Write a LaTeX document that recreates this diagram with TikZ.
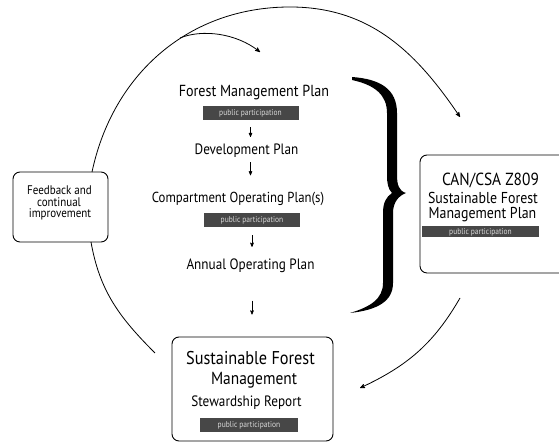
\documentclass[tikz,border=0pt]{standalone}
\usepackage{fontspec}
\setmainfont{PT Sans}[FakeStretch=0.88]
\usetikzlibrary{arrows}

\begin{document}
\begin{tikzpicture}[x=1pt,y=1pt,>=stealth',line width=0.8pt,
  plan/.style={inner sep=0pt,anchor=base,font=\fontsize{15}{17}\selectfont},
  small/.style={inner sep=0pt,anchor=base,font=\fontsize{12.5}{13}\selectfont},
  pp/.style={fill=black!72,text=white!85!black,inner sep=0pt,minimum width=96pt,
    minimum height=14pt,font=\fontsize{8.5}{9}\selectfont},
  box/.style={draw,line width=0.9pt,rounded corners=7pt,inner sep=0pt},
  flow/.style={->,line width=0.6pt}]

\useasboundingbox (0,0) rectangle (559,443);

% boxes
\node[box,minimum width=95pt,minimum height=70pt] (feed) at (60.5,236) {};
\node[box,minimum width=150pt,minimum height=118pt] (csa) at (495,229) {};
\node[box,minimum width=161pt,minimum height=104pt] (sfm) at (252.5,54) {};

% planning column
\node[plan,font=\fontsize{16}{18}\selectfont] (fmp) at (254,346) {Forest Management Plan};
\node[pp] (pp1) at (250.5,330) {public participation};
\node[plan] (dev) at (246.5,288) {Development Plan};
\node[plan,font=\fontsize{14.5}{17}\selectfont] (cop) at (238,240) {Compartment Operating Plan(s)};
\node[pp] (pp2) at (252,223) {public participation};
\node[plan] (aop) at (250.5,173) {Annual Operating Plan};

\draw[flow,shorten <=7pt,shorten >=7pt] (pp1.south) -- (pp1.south |- dev.north);
\draw[flow,shorten <=4pt,shorten >=17pt] (pp1.south |- dev.south) -- (pp1.south |- cop.north);
\draw[flow,shorten <=8pt,shorten >=12pt] (pp2.south) -- (pp2.south |- aop.north);
\draw[flow,shorten <=27pt,shorten >=22pt] (pp2.south |- aop.south) -- (pp2.south |- sfm.north);

% stewardship report
\node[plan,font=\fontsize{18.5}{20}\selectfont] (sfm1) at (250.5,78) {Sustainable Forest};
\node[plan,font=\fontsize{17.5}{19}\selectfont] (sfm2) at (254,58) {Management};
\node[plan] (sfm3) at (246.5,36) {Stewardship Report};
\node[pp,minimum width=98pt] (pp3) at (249,18) {public participation};

% CAN/CSA plan
\node[plan,font=\fontsize{17.5}{19}\selectfont] (csa1) at (490.5,257) {CAN/CSA Z809};
\node[plan,font=\fontsize{15.8}{17}\selectfont] (csa2) at (483,239) {Sustainable Forest};
\node[plan,font=\fontsize{15.8}{17}\selectfont] (csa3) at (482.5,224) {Management Plan};
\node[pp,minimum width=117pt,minimum height=11pt] (pp4) at (480.5,211) {public participation};

% feedback
\node[small] (fb1) at (59.5,248) {Feedback and};
\node[small] (fb2) at (59,236.5) {continual};
\node[small] (fb3) at (60,225) {improvement};

% brace
\fill (352,366) .. controls (380,364) and (397,354) .. (397,330) -- (397,268)
  .. controls (397,258) and (399,252) .. (406,250)
  .. controls (398,247) and (393,240) .. (393,230) -- (393,160)
  .. controls (393,142) and (378,133) .. (350,130)
  .. controls (370,136) and (383,144) .. (383,160) -- (383,230)
  .. controls (383,240) and (386,246) .. (392,250)
  .. controls (388,254) and (387,260) .. (387,268) -- (387,330)
  .. controls (387,348) and (375,358) .. (352,363) -- cycle;

% cycle
\coordinate (fbtop) at (92,271);
\coordinate (top) at (290,436);
\coordinate (tipR) at (460,326);
\coordinate (branch) at (180,405);
\coordinate (tipT) at (260,391);
\coordinate (fbbot) at (91,201);
\coordinate (lowL) at (155,90);
\coordinate (startR) at (460,145);
\coordinate (tipB) at (360,55);

\draw[->] (fbtop) to[out=78,in=180] (top) to[out=0,in=124] (tipR);
\draw[->] (branch) .. controls (202,414) and (236,410) .. (tipT);
\draw (fbbot) to[out=-80,in=135] (lowL);
\draw[->] (startR) to[out=240,in=25] (tipB);

\end{tikzpicture}
\end{document}
